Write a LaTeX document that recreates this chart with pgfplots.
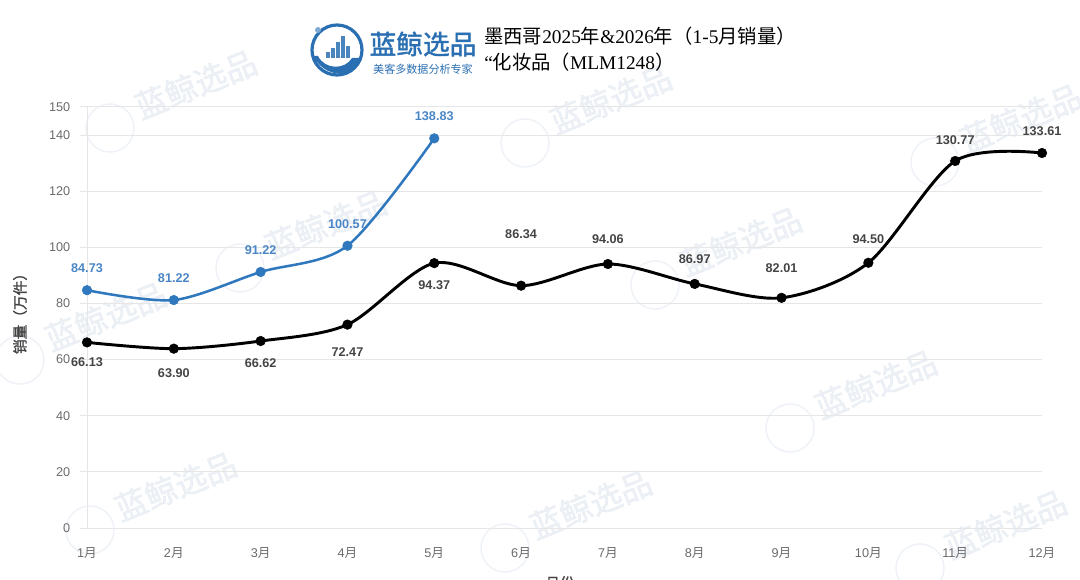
\documentclass[border=0pt]{standalone}
\usepackage{pgfplots}
\pgfplotsset{compat=1.18}
\usepackage{pgfplotstable}
\usepackage{fontspec}
\setmainfont{Liberation Sans}
\newfontfamily\cjk{Noto Sans CJK SC}
\newfontfamily\cjkb[FakeBold=1.6]{Noto Sans CJK SC}
\newfontfamily\serif{Liberation Serif}

\definecolor{blueline}{HTML}{2F78BE}
\definecolor{bluelabel}{HTML}{4A86C5}
\definecolor{tickgray}{HTML}{6A6A6A}
\definecolor{labgray}{HTML}{444444}
\definecolor{gridgray}{HTML}{E6E6E6}
\definecolor{logoblue}{HTML}{2A6FB2}
\definecolor{wmark}{HTML}{DCE4EE}

% monthly sales 2025 (with label offsets in px)
\pgfplotstableread{
m v dy
1 66.13 -20
2 63.90 -24
3 66.62 -22
4 72.47 -27
5 94.37 -22
6 86.34 52
7 94.06 25
8 86.97 25
9 82.01 30
10 94.50 24
11 130.77 21
12 133.61 22
}\salesA

% monthly sales 2026, Jan-May
\pgfplotstableread{
m v
1 84.73
2 81.22
3 91.22
4 100.57
5 138.83
}\salesB

\tikzset{px/.style={x=0.75pt,y=-0.75pt,shift={(-87,-528)}}}

% faint background stamp
\newcommand\wm[2]{%
  \begin{scope}[shift={(#1,#2)}]
    \draw[wmark,line width=1.2pt,opacity=0.45] (0,0) circle (24);
    \node[wmark,opacity=0.5,rotate=22,anchor=west,font=\cjkb\fontsize{24pt}{24pt}\selectfont] at (22,-18) {蓝鲸选品};
  \end{scope}}

\begin{document}
\begin{tikzpicture}
\begin{scope}[px]
  \wm{110}{128}\wm{525}{143}\wm{935}{162}
  \wm{240}{268}\wm{655}{285}
  \wm{20}{360}\wm{790}{428}
  \wm{90}{530}\wm{505}{548}\wm{920}{568}
\end{scope}

\begin{axis}[
  at={(0,0)}, anchor=south west,
  scale only axis, width=716.25pt, height=315.75pt,
  xmin=1, xmax=12, ymin=0, ymax=150,
  xtick={1,...,12},
  xticklabels={1{\cjk 月},2{\cjk 月},3{\cjk 月},4{\cjk 月},5{\cjk 月},6{\cjk 月},7{\cjk 月},8{\cjk 月},9{\cjk 月},10{\cjk 月},11{\cjk 月},12{\cjk 月}},
  ytick={0,20,40,60,80,100,120,140,150},
  /pgf/number format/assume math mode=true,
  ymajorgrids, major grid style={gridgray, line width=0.75pt},
  axis lines*=left,
  axis line style={gridgray, line width=0.75pt},
  x axis line style={draw=none},
  tick align=outside, major tick length=5pt,
  ytick style={gridgray, line width=0.75pt},
  xtick style={draw=none},
  ticklabel style={font=\fontsize{9.5pt}{10pt}\selectfont, text=tickgray},
  yticklabel style={xshift=-4pt},
  xticklabel style={yshift=-6pt},
  clip=false,
]
\addplot[black, line width=2.2pt, smooth, tension=0.5,
  mark=*, mark size=3.6pt, mark options={fill=black, draw=black, line width=0.4pt},
  point meta=explicit,
  visualization depends on={\thisrow{dy} \as \dy},
  nodes near coords={\pgfmathprintnumber[fixed,fixed zerofill,precision=2]{\pgfplotspointmeta}},
  every node near coord/.append style={anchor=center, yshift={\dy*0.75pt},
    font=\bfseries\fontsize{9.5pt}{10pt}\selectfont, text=labgray},
] table[x=m, y=v, meta=v] {\salesA};

\addplot[blueline, line width=1.9pt, smooth, tension=0.5,
  mark=*, mark size=3.6pt, mark options={fill=blueline, draw=blueline, line width=0.4pt},
  point meta=explicit,
  nodes near coords={\pgfmathprintnumber[fixed,fixed zerofill,precision=2]{\pgfplotspointmeta}},
  every node near coord/.append style={anchor=center, yshift=16.5pt,
    font=\bfseries\fontsize{9.5pt}{10pt}\selectfont, text=bluelabel},
] table[x=m, y=v, meta=v] {\salesB};
\end{axis}

\begin{scope}[px]
  % axis titles
  \node[rotate=90, font=\cjkb\fontsize{11pt}{11pt}\selectfont, text=labgray] at (20,310) {销量（万件）};
  \node[font=\cjkb\fontsize{11pt}{11pt}\selectfont, text=labgray] at (560,583) {月份};

  % logo
  \fill[white] (337,50) circle (26);
  \draw[logoblue, line width=2.4pt] (337,50) circle (25);
  \fill[logoblue] (313,56) .. controls (325,78) and (352,80) .. (361,58) -- (352,58) .. controls (345,70) and (325,70) .. (318,56) -- cycle;
  \foreach \bx/\bh in {326/6,331/10,336/16,341/22,346/12}
    \fill[logoblue!85] (\bx,58) rectangle ++(3.6,-\bh);
  \fill[logoblue!60] (318,30) circle (3);
  \node[anchor=center, font=\cjkb\fontsize{20pt}{20pt}\selectfont, text=logoblue] at (423,44) {蓝鲸选品};
  \node[anchor=center, font=\cjk\fontsize{8.3pt}{9pt}\selectfont, text=logoblue] at (423,69) {美客多数据分析专家};

  % chart title
  \node[anchor=west, font=\fontsize{14.5pt}{15pt}\selectfont, text=black, inner sep=0pt] at (484,36)
    {{\cjk 墨西哥}{\serif 2025}{\cjk 年}{\serif\&2026}{\cjk 年（}{\serif 1-5}{\cjk 月销量）}};
  \node[anchor=west, font=\fontsize{14.5pt}{15pt}\selectfont, text=black, inner sep=0pt] at (484,62)
    {{\serif “}{\cjk 化妆品（}{\serif MLM1248}{\cjk ）}};
\end{scope}

% page frame
\pgfresetboundingbox
\begin{scope}[px]
  \path[use as bounding box] (0,0) rectangle (1080,579);
\end{scope}
\end{tikzpicture}
\end{document}
